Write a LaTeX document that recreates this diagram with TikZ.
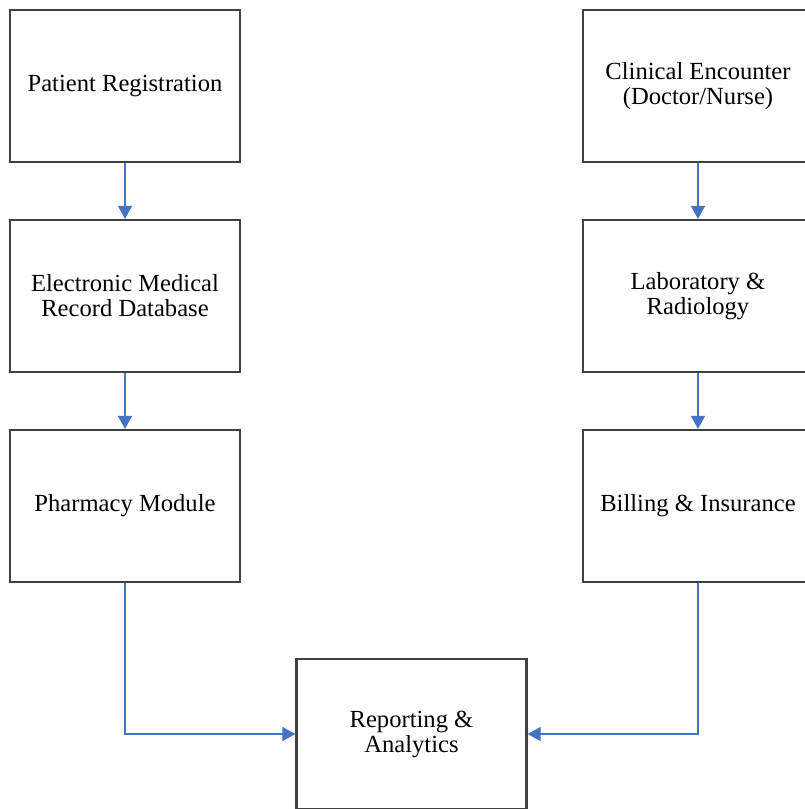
\documentclass[tikz,border=0pt]{standalone}
\usepackage{fontspec}
\setmainfont{Liberation Serif}
\usetikzlibrary{shapes, arrows.meta, positioning}
\definecolor{linkblue}{HTML}{4472C4}
\definecolor{boxgray}{HTML}{404040}

\begin{document}
\begin{tikzpicture}[node distance=4.2cm]
        \tikzstyle{block} = [rectangle, minimum width = 4.6cm, minimum height = 3.04cm, text centered, align=center, draw=boxgray, line width=1.2pt, font=\fontsize{14}{14.2}\selectfont]
        \tikzstyle{singlearrow} = [draw=linkblue, line width=0.8pt, -{Triangle[width=8pt, length=7.5pt]}, color=linkblue]

        \useasboundingbox (0,0) rectangle (16.1,-16.18);
        \clip (0,0) rectangle (16.1,-16.18);

        \node (reg) [block] at (2.5,-1.72) {Patient Registration};
        \node (emr) [block, below of=reg] {Electronic Medical \\ Record Database};
        \node (pharm) [block, below of=emr] {Pharmacy Module};
        \draw[singlearrow] (reg) -- (emr);
        \draw[singlearrow] (emr) -- (pharm);

        \node (clin) [block, right of=reg, xshift=7.26cm] {Clinical Encounter \\ (Doctor/Nurse)};
        \node (lab) [block, below of=clin] {Laboratory \& \\ Radiology};
        \node (bill) [block, below of=lab] {Billing \& Insurance};
        \draw[singlearrow] (clin) -- (lab);
        \draw[singlearrow] (lab) -- (bill);

        \node (report) [block, minimum height = 3cm] at (8.23,-14.68) {Reporting \& \\ Analytics};
        \draw[singlearrow] (pharm.south) |- (report.west);
        \draw[singlearrow] (bill.south) |- (report.east);

    \end{tikzpicture}
\end{document}
